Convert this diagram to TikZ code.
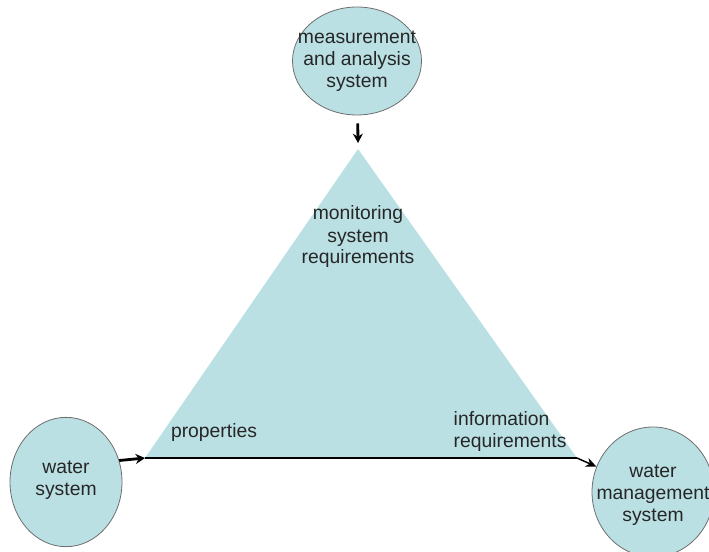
\documentclass[tikz,border=0pt]{standalone}
\usepackage{fontspec}
\setmainfont{Liberation Sans}
\usetikzlibrary{positioning, arrows.meta, shapes.geometric, calc}

\definecolor{paleteal}{RGB}{186,224,228}
\definecolor{rimgray}{RGB}{110,110,110}

\begin{document}
\begin{tikzpicture}[
  x=0.75pt, y=-0.75pt,
  blob/.style={ellipse, draw=rimgray, fill=paleteal, line width=0.6pt, inner sep=0pt},
  txt/.style={align=center, font=\fontsize{14.5}{16.5}\selectfont, text=black!85},
  arr/.style={-{Stealth[length=7pt, width=7.5pt]}, line width=2.1pt, color=black},
  basearr/.style={-{Stealth[length=8pt, width=7pt]}, line width=1.1pt, color=black},
]
\useasboundingbox (0,0) rectangle (709,552);

% ===== TRIANGLE CORNERS =====
\coordinate (apex) at (358,149);
\coordinate (bl) at (145,458);
\coordinate (br) at (577,458);

\fill[paleteal] (apex) -- (bl) -- (br) -- cycle;

% ===== ELLIPSES =====
\node[blob, minimum width=96.75pt, minimum height=81pt] (meas) at (357,61) {};
\node[blob, minimum width=84pt, minimum height=97pt] (water) at (66,482) {};
\node[blob, minimum width=91.5pt, minimum height=97.5pt] (mgmt) at (653,492) {};

\node[txt] at (meas) {measurement\\and analysis\\system};
\node[txt] at ($(water)+(0,-2)$) {water\\system};
\node[txt] at ($(mgmt)+(0,3)$) {water\\management\\system};

% ===== TRIANGLE LABELS =====
\node[txt] (mon) at (358,237) {monitoring\\system\\requirements};
\node[txt] (prop) at (214,432) {properties};
\node[txt, anchor=west, align=left] (info) at (449,431) {information\\requirements};

% ===== ARROWS =====
\draw[arr, shorten <=6pt] (meas) -- ($(apex)+(0,-6)$);
\draw[arr] (water.22) -- (bl);
\draw[line width=1.1pt] (bl) -- (br);
\draw[basearr] (br) -- (mgmt);

\end{tikzpicture}
\end{document}
